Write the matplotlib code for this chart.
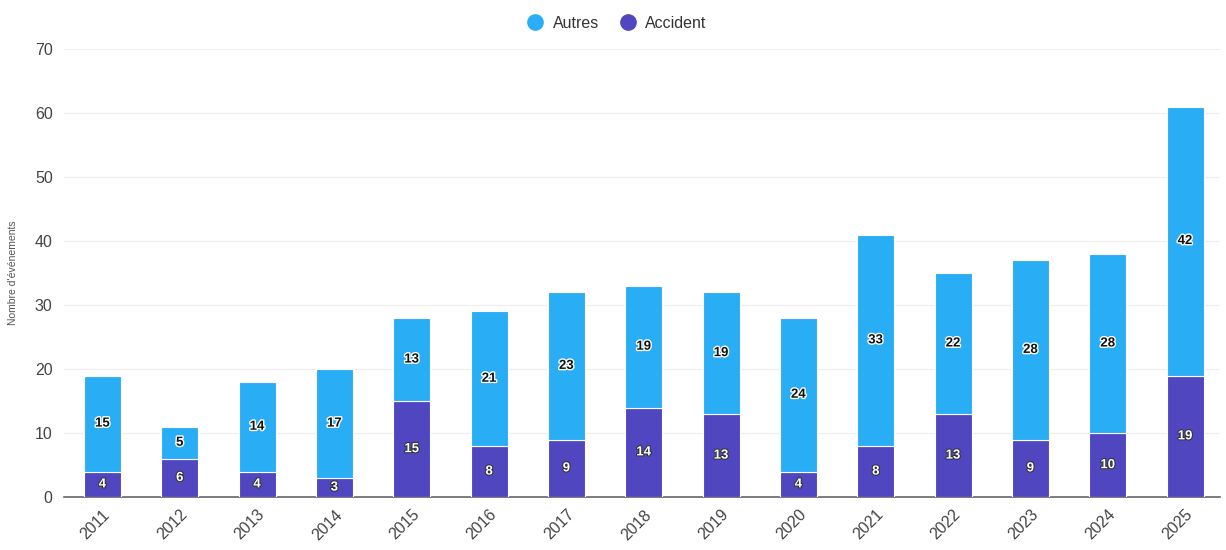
import matplotlib.pyplot as plt
import matplotlib.patheffects as pe
from matplotlib.lines import Line2D

plt.rcParams["font.family"] = ["Liberation Sans", "DejaVu Sans"]

years = ["2011", "2012", "2013", "2014", "2015", "2016", "2017", "2018",
         "2019", "2020", "2021", "2022", "2023", "2024", "2025"]
accident = [4, 6, 4, 3, 15, 8, 9, 14, 13, 4, 8, 13, 9, 10, 19]
autres = [15, 5, 14, 17, 13, 21, 23, 19, 19, 24, 33, 22, 28, 28, 42]

c_autres = "#29aef5"
c_accident = "#5046c0"

fig = plt.figure(figsize=(12.26, 5.5), dpi=100)
ax = fig.add_axes([0.052, 0.096, 0.943, 0.815])

x = list(range(len(years)))
ax.bar(x, accident, width=0.48, color=c_accident, edgecolor="white", linewidth=0.8, zorder=3)
ax.bar(x, autres, width=0.48, bottom=accident, color=c_autres, edgecolor="white", linewidth=0.8, zorder=3)

# value labels inside each segment
for i in x:
    ax.text(i, accident[i] / 2, str(accident[i]), ha="center", va="center",
            fontsize=9.5, fontweight="bold", color="white", zorder=4,
            path_effects=[pe.withStroke(linewidth=1.5, foreground="#333333")])
    ax.text(i, accident[i] + autres[i] / 2, str(autres[i]), ha="center", va="center",
            fontsize=9.5, fontweight="bold", color="#111111", zorder=4,
            path_effects=[pe.withStroke(linewidth=2, foreground="white")])

ax.set_ylim(0, 70)
ax.set_yticks(range(0, 71, 10))
ax.set_xlim(-0.5, 14.45)
ax.set_xticks(x)
ax.set_xticklabels(years, rotation=45, ha="right", rotation_mode="anchor")
ax.tick_params(axis="both", length=0, labelsize=11.5, colors="#444444")
ax.tick_params(axis="x", pad=7)
ax.tick_params(axis="y", pad=8)
ax.grid(axis="y", color="#eeeeee", linewidth=0.8, zorder=0)
for s in ["top", "right", "left"]:
    ax.spines[s].set_visible(False)
ax.spines["bottom"].set_color("#666666")
ax.spines["bottom"].set_linewidth(1.2)
ax.set_ylabel("Nombre d'événements", fontsize=7.5, color="#555555", labelpad=12)

handles = [Line2D([0], [0], marker="o", linestyle="", markersize=11, color=c_autres),
           Line2D([0], [0], marker="o", linestyle="", markersize=11, color=c_accident)]
fig.legend(handles, ["Autres", "Accident"], loc="center", bbox_to_anchor=(0.5, 0.958),
           ncol=2, frameon=False, fontsize=11.5, handletextpad=0.1, columnspacing=0.8,
           labelcolor="#333333")

fig.savefig("out.png", dpi=100)
